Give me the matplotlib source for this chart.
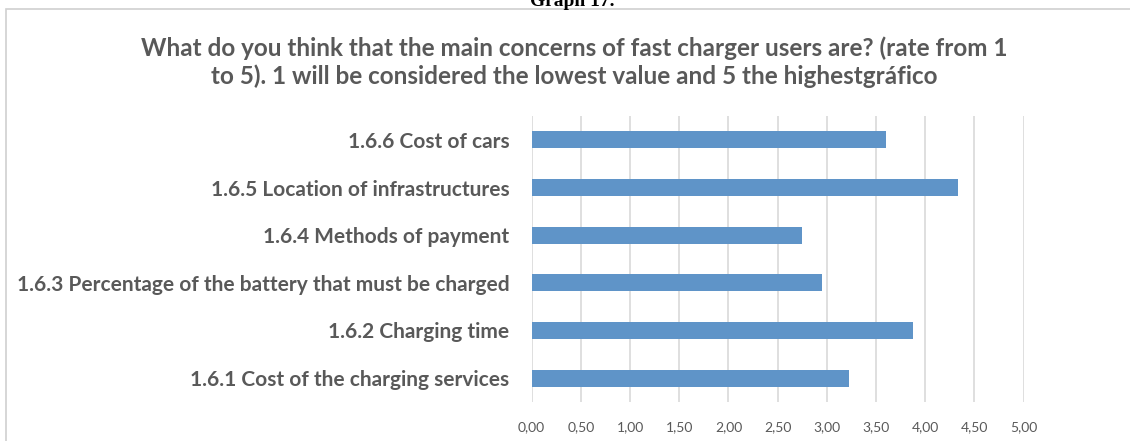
import matplotlib.pyplot as plt
from matplotlib.patches import Rectangle
from matplotlib.ticker import FuncFormatter

categories = [
    "1.6.1 Cost of the charging services",
    "1.6.2 Charging time",
    "1.6.3 Percentage of the battery that must be charged",
    "1.6.4 Methods of payment",
    "1.6.5 Location of infrastructures",
    "1.6.6 Cost of cars",
]
scores = [3.23, 3.88, 2.95, 2.75, 4.33, 3.60]
x_ticks = [0.0, 0.5, 1.0, 1.5, 2.0, 2.5, 3.0, 3.5, 4.0, 4.5, 5.0]

title = ("What do you think that the main concerns of fast charger users are? (rate from 1\n"
         "to 5). 1 will be considered the lowest value and 5 the highestgráfico")

text_gray = "#595959"
bar_blue = "#5f94c8"
grid_gray = "#d9d9d9"
font = "Lato"

fig = plt.figure(figsize=(11.3, 4.41), dpi=100)

# chart frame, running off the right and bottom edges
fig.patches.append(Rectangle((6 / 1130, -0.1), 1.2, 1 - 9 / 441 + 0.1,
                             transform=fig.transFigure, fill=False,
                             edgecolor="#d0d0d0", linewidth=1.2))
fig.text(0.506, 1.0 - 2 / 441, "Graph 17.", ha="center", va="center",
         fontsize=14, fontweight="bold", family="Liberation Serif")

ax = fig.add_axes([531.6 / 1130, 39 / 441, (1023.7 - 531.6) / 1130, 286 / 441])
ax.barh(range(len(categories)), scores, height=0.35, color=bar_blue, zorder=3)

ax.set_xlim(0, 5)
ax.set_ylim(-0.5, len(categories) - 0.5)
ax.set_xticks(x_ticks)
ax.xaxis.set_major_formatter(FuncFormatter(lambda v, p: f"{v:.2f}".replace(".", ",")))
ax.set_yticks(range(len(categories)))
ax.set_yticklabels(categories, fontsize=15, fontweight="bold", color=text_gray,
                   family=font)
ax.tick_params(axis="y", length=0, pad=16)
ax.tick_params(axis="x", length=0, pad=14, labelsize=10, labelcolor=text_gray)
for lbl in ax.get_xticklabels():
    lbl.set_family(font)

ax.grid(axis="x", color=grid_gray, linewidth=1.2, zorder=0)
for s in ax.spines.values():
    s.set_visible(False)

fig.text(0.508, 1 - 62 / 441, title, ha="center", va="center", fontsize=17.5,
         fontweight="bold", color=text_gray, family=font, linespacing=1.22)

fig.savefig("out.png", dpi=100)
